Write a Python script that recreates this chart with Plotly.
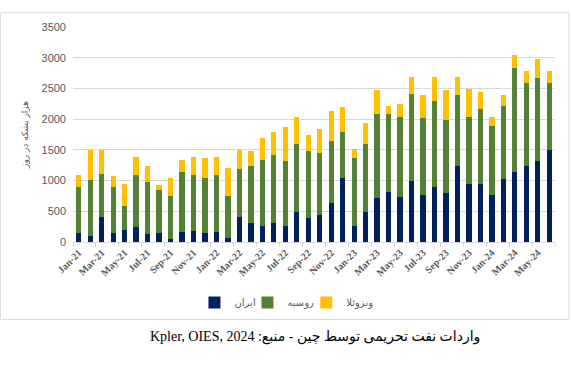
import plotly.graph_objects as go

months = ["Jan-21","Feb-21","Mar-21","Apr-21","May-21","Jun-21","Jul-21","Aug-21","Sep-21","Oct-21","Nov-21","Dec-21",
          "Jan-22","Feb-22","Mar-22","Apr-22","May-22","Jun-22","Jul-22","Aug-22","Sep-22","Oct-22","Nov-22","Dec-22",
          "Jan-23","Feb-23","Mar-23","Apr-23","May-23","Jun-23","Jul-23","Aug-23","Sep-23","Oct-23","Nov-23","Dec-23",
          "Jan-24","Feb-24","Mar-24","Apr-24","May-24","Jun-24"]

iran = [150,100,410,150,195,245,130,150,50,165,180,150,165,65,400,305,255,305,255,485,
        385,435,630,1040,255,485,715,810,730,990,765,895,795,1235,940,940,765,1025,1140,1235,1320,1500]
russia = [745,910,700,745,390,845,845,695,700,975,910,890,925,680,785,930,1080,1110,1060,1110,
          1095,1015,1015,750,1110,1110,1370,1275,1305,1420,1255,1405,1190,1160,1095,1225,1125,1190,1700,1355,1355,1090]
venezuela = [200,490,390,180,365,295,265,80,290,195,295,325,295,460,310,245,360,375,555,440,
             260,390,490,410,145,345,390,130,210,280,375,390,490,295,455,280,145,180,210,195,310,195]

series_names = ["ایران", "روسیه", "ونزوئلا"]
series_colors = ["#002060", "#548235", "#FFC000"]
legend_ids = ["legend", "legend2", "legend3"]
yaxis_title = "هزار بشکه در روز"
caption = "\u202Bواردات نفت تحریمی توسط چین - منبع: Kpler, OIES, 2024\u202C"

fig = go.Figure()
for name, vals, col, lg in zip(series_names, [iran, russia, venezuela], series_colors, legend_ids):
    fig.add_trace(go.Bar(x=months, y=vals, name=name, legend=lg,
                         marker=dict(color=col, line=dict(width=0))))

grey = "#595959"
leg_common = dict(orientation="h", xanchor="left", y=-0.281, yanchor="middle",
                  font=dict(family="DejaVu Sans", size=10, color=grey), itemwidth=30,
                  bgcolor="rgba(0,0,0,0)")
fig.update_layout(
    barmode="stack",
    bargap=0.54,
    width=571, height=369,
    margin=dict(l=73, r=16, t=27, b=127),
    paper_bgcolor="white", plot_bgcolor="white",
    showlegend=True,
    legend=dict(x=0.252, **leg_common),
    legend2=dict(x=0.362, **leg_common),
    legend3=dict(x=0.484, **leg_common),
    font=dict(family="DejaVu Sans", color=grey),
    xaxis=dict(type="category", tickmode="linear", tick0=0, dtick=2,
               tickangle=-45, tickson="boundaries", ticks="outside", ticklen=4,
               tickcolor="#d9d9d9", showline=True, linecolor="#d9d9d9", linewidth=1,
               tickfont=dict(family="Liberation Serif", size=10, color=grey, weight="bold"),
               showgrid=False),
    yaxis=dict(range=[0, 3500], dtick=500, showgrid=True, gridcolor="#d9d9d9", gridwidth=1,
               zeroline=False, showline=False, ticks="",
               tickfont=dict(family="Liberation Sans", size=11, color=grey),
               ticklabelstandoff=6,
               title=dict(text=yaxis_title, font=dict(family="DejaVu Sans", size=9, color=grey), standoff=11)),
    shapes=[dict(type="rect", xref="paper", yref="paper", x0=-0.1505, x1=1.029, y0=-0.3605, y1=1.0667,
                 line=dict(color="#d9d9d9", width=1), fillcolor="rgba(0,0,0,0)", layer="below")],
    annotations=[dict(text=caption, xref="paper", yref="paper", x=0.503, y=-0.443, xanchor="center",
                      yanchor="middle", showarrow=False,
                      font=dict(family="Liberation Serif, DejaVu Sans", size=14, color="black"))],
)

fig.write_html("out.html", config={"displayModeBar": False},
               post_script="document.body.style.margin='0';document.body.style.padding='0';")
